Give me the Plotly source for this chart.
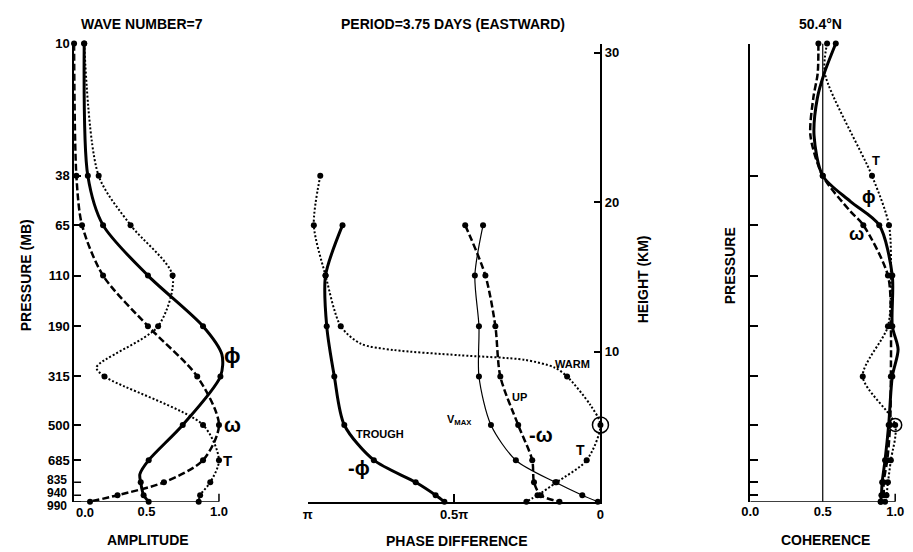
import plotly.graph_objects as go

# ---------------- data ----------------
pressure_levels = [10, 38, 65, 110, 190, 315, 500, 685, 835, 940, 990]
level_height_km = [30.6, 21.76, 18.47, 15.10, 11.72, 8.36, 5.12, 2.77, 1.29, 0.43, 0.0]
height_ticks_km = [10, 20, 30]

# Amplitude (left panel)
amp_phi = [0.07, 0.095, 0.20, 0.51, 0.89, 1.01, 0.75, 0.515, 0.46, 0.48, 0.515]
amp_omega = [0.0, 0.016, 0.055, 0.20, 0.51, 0.85, 1.0, 0.89, 0.62, 0.30, 0.11]
amp_T = [0.07, 0.17, 0.39, 0.68, 0.58, 0.21, 0.89, 1.0, 0.94, 0.87, 0.86]
amp_phi_curve_h = [9.83, 1.83]
amp_phi_curve = [1.02, 0.454]
amp_T_curve_h = [8.97]
amp_T_curve = [0.155]

# Phase difference (middle panel), in units of pi
phase_neg_phi = [None, None, 0.881, 0.939, 0.935, 0.909, 0.875, 0.774, 0.631, 0.563, 0.533]
phase_neg_omega = [None, None, 0.462, 0.393, 0.359, 0.342, 0.281, 0.233, 0.227, 0.204, 0.140]
phase_vmax = [None, None, 0.401, 0.429, 0.415, 0.415, 0.374, 0.289, 0.154, 0.062, 0.009]
phase_T = [None, 0.957, 0.979, 0.939, 0.887, 0.114, 0.0, 0.047, 0.150, 0.215, 0.253]
phase_T_curve_h = [10.55, 10.13, 9.78, 9.47, 8.96, 6.44]
phase_T_curve = [0.819, 0.707, 0.482, 0.258, 0.157, 0.034]
phase_ticks = [1.0, 0.5, 0.0]
phase_ticktext = ["π", "0.5π", "0"]

# Coherence (right panel)
coh_phi = [0.59, 0.50, 0.89, 0.98, 0.98, 0.98, 0.955, 0.93, 0.91, 0.905, 0.90]
coh_omega = [0.47, 0.50, 0.78, 0.95, 0.97, 0.97, 0.965, 0.945, 0.92, 0.92, 0.90]
coh_T = [0.53, 0.84, 0.957, 0.97, 0.95, 0.776, 1.0, 0.97, 0.95, 0.94, 0.93]
coh_phi_curve_h = [28.6, 26.97, 24.46, 20.06, 10.17]
coh_phi_curve = [0.51, 0.463, 0.44, 0.69, 1.02]
coh_omega_curve_h = [28.6, 26.97, 24.46, 19.4]
coh_omega_curve = [0.465, 0.435, 0.415, 0.69]
coh_T_curve_h = [28.6]
coh_T_curve = [0.515]

# ---------------- figure ----------------
W, H = 913, 552
FONT = "Liberation Sans, Arial, sans-serif"


def px(x):
    return x / W


def py(y):
    return 1 - y / H


STYLES = {
    "phi": dict(width=3, dash="solid"),
    "omega": dict(width=2.5, dash="7px,3px"),
    "T": dict(width=2, dash="2px,2px"),
    "thin": dict(width=1.2, dash="solid"),
}

fig = go.Figure()


def add_curve(xa, ya, vals, style, curve_h=(), curve_v=()):
    mk = [(h, v) for h, v in zip(level_height_km, vals) if v is not None]
    pts = sorted(mk + list(zip(curve_h, curve_v)), key=lambda p: -p[0])
    st = STYLES[style]
    fig.add_trace(go.Scatter(
        x=[p[1] for p in pts], y=[p[0] for p in pts], mode="lines",
        line=dict(color="black", width=st["width"], dash=st["dash"],
                  shape="spline", smoothing=0.8),
        xaxis=xa, yaxis=ya, hoverinfo="skip", showlegend=False))
    fig.add_trace(go.Scatter(
        x=[p[1] for p in mk], y=[p[0] for p in mk], mode="markers",
        marker=dict(color="black", size=6), cliponaxis=False,
        xaxis=xa, yaxis=ya, hoverinfo="skip", showlegend=False))


# left
add_curve("x", "y", amp_phi, "phi", amp_phi_curve_h, amp_phi_curve)
add_curve("x", "y", amp_omega, "omega")
add_curve("x", "y", amp_T, "T", amp_T_curve_h, amp_T_curve)
# middle
add_curve("x2", "y2", phase_neg_phi, "phi")
add_curve("x2", "y2", phase_neg_omega, "omega")
add_curve("x2", "y2", phase_vmax, "thin")
add_curve("x2", "y2", phase_T, "T", phase_T_curve_h, phase_T_curve)
# right
add_curve("x3", "y3", coh_phi, "phi", coh_phi_curve_h, coh_phi_curve)
add_curve("x3", "y3", coh_omega, "omega", coh_omega_curve_h, coh_omega_curve)
add_curve("x3", "y3", coh_T, "T", coh_T_curve_h, coh_T_curve)

# circled points (T at 500 mb)
i500 = pressure_levels.index(500)
fig.add_trace(go.Scatter(x=[phase_T[i500]], y=[level_height_km[i500]], mode="markers",
                         marker=dict(symbol="circle-open", size=16, color="black", line=dict(width=1.5)),
                         cliponaxis=False, xaxis="x2", yaxis="y2", hoverinfo="skip", showlegend=False))
fig.add_trace(go.Scatter(x=[coh_T[i500]], y=[level_height_km[i500]], mode="markers",
                         marker=dict(symbol="circle-open", size=13, color="black", line=dict(width=1.5)),
                         cliponaxis=False, xaxis="x3", yaxis="y3", hoverinfo="skip", showlegend=False))

ydom = [py(501), py(37)]
yr = [0, 30.6]
TICKFONT = dict(size=13, family=FONT, color="black", weight="bold")
common = dict(showgrid=False, zeroline=False, color="black", linecolor="black", tickfont=TICKFONT)

# pressure tick labels: the three lowest levels are packed tightly, drawn as annotations below
n_axis_labels = 8

fig.update_layout(
    width=W, height=H, margin=dict(l=0, r=0, t=0, b=0),
    paper_bgcolor="white", plot_bgcolor="white",
    font=dict(family=FONT, color="black"),
    showlegend=False,
    xaxis=dict(domain=[px(66), px(66 + 147 * 1.06)], range=[0, 1.06], anchor="y",
               showline=False, ticks="", tickvals=[0.5, 1.0], ticktext=["0.5", "1.0"], **common),
    yaxis=dict(domain=ydom, range=yr, anchor="x", showline=True, linewidth=1.5,
               ticks="inside", ticklen=7, tickwidth=1.5,
               tickvals=level_height_km[:n_axis_labels],
               ticktext=[str(p) for p in pressure_levels[:n_axis_labels]], **common),
    xaxis2=dict(domain=[px(303), px(600)], range=[1, 0], anchor="y2",
                showline=True, linewidth=1.5, ticks="inside", ticklen=8, tickwidth=1.5,
                tickvals=phase_ticks, ticktext=phase_ticktext, **common),
    yaxis2=dict(domain=ydom, range=yr, anchor="x2", side="right",
                showline=True, linewidth=1.5, ticks="inside", ticklen=7, tickwidth=1.5,
                tickvals=height_ticks_km, ticktext=[str(h) for h in height_ticks_km], **common),
    xaxis3=dict(domain=[px(752), px(752 + 147 * 1.05)], range=[0, 1.05], anchor="y3",
                showline=False, ticks="", tickvals=[0, 0.5, 1.0], ticktext=["0.0", "0.5", "1.0"], **common),
    yaxis3=dict(domain=ydom, range=yr, anchor="x3", showline=True, linewidth=1.5,
                ticks="inside", ticklen=8, tickwidth=1.5,
                tickvals=level_height_km, showticklabels=False, **common),
)

line_k = dict(color="black", width=1.5)
shapes = [
    dict(type="line", xref="x", yref="y", x0=0, x1=1, y0=0, y1=0, line=line_k),
    dict(type="line", xref="x", yref="y", ysizemode="pixel", yanchor=0, x0=1, x1=1, y0=0, y1=8, line=line_k),
    dict(type="line", xref="x3", yref="y3", x0=0, x1=1, y0=0, y1=0, line=line_k),
    dict(type="line", xref="x3", yref="y3", ysizemode="pixel", yanchor=0, x0=1, x1=1, y0=0, y1=8, line=line_k),
    dict(type="line", xref="x3", yref="y3", x0=0.5, x1=0.5, y0=yr[0], y1=yr[1], line=dict(color="black", width=1.2)),
]
# inside ticks for the packed lowest pressure levels on the left axis
for h in level_height_km[n_axis_labels:]:
    shapes.append(dict(type="line", xref="x", yref="y", xsizemode="pixel", xanchor=0,
                       x0=0, x1=7, y0=h, y1=h, line=line_k))
fig.update_layout(shapes=shapes)


def ann(text, x, y, size, angle=0, xanchor="center"):
    fig.add_annotation(text=text, x=px(x), y=py(y), xref="paper", yref="paper",
                       xanchor=xanchor, yanchor="middle", showarrow=False,
                       textangle=angle,
                       font=dict(size=size, family=FONT, color="black", weight="bold"))


# titles
ann("WAVE NUMBER=7", 135, 17, 14)
ann("PERIOD=3.75 DAYS (EASTWARD)", 450, 17, 14)
ann("50.4°N", 823, 17, 14)
ann("AMPLITUDE", 141, 540, 14)
ann("PHASE DIFFERENCE", 454, 541, 14)
ann("COHERENCE", 828, 540, 14)
ann("PRESSURE (MB)", 17, 272, 14, -90)
ann("HEIGHT (KM)", 643, 276, 14, -90)
ann("PRESSURE", 731, 262, 14, -90)
ann("0.0", 77, 512, 13)

# lowest pressure labels (packed)
for p, yy in zip(pressure_levels[n_axis_labels:], [479, 492, 505]):
    ann(str(p), 61, yy, 12, xanchor="right")

# curve labels - left
ann("ϕ", 227, 353, 22)
ann("ω", 227, 423, 20)
ann("T", 222, 459, 15)
# middle
ann("TROUGH", 376, 432, 11)
ann("-ϕ", 355, 467, 20)
ann("V<sub>MAX</sub>", 457, 418, 11)
ann("UP", 518, 395, 11)
ann("-ω", 540, 433, 20)
ann("T", 580, 449, 14)
ann("WARM", 572, 362, 11)
# right
ann("T", 880, 155, 13)
ann("ϕ", 872, 192, 18)
ann("ω", 860, 230, 18)

fig.write_html("out.html")
